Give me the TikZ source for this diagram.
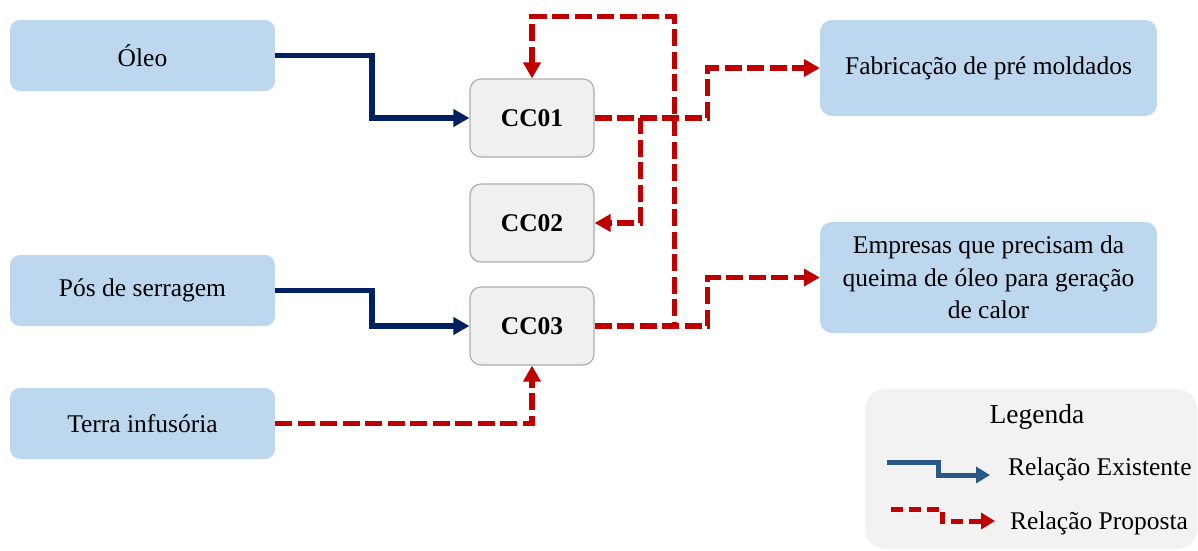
\documentclass[tikz,border=0pt]{standalone}
\usepackage{fontspec}
\setmainfont{Liberation Serif}
\usetikzlibrary{arrows.meta}
\definecolor{boxblue}{HTML}{BDD7EE}
\definecolor{navy}{HTML}{002060}
\definecolor{darkred}{HTML}{C00000}
\definecolor{ccfill}{HTML}{F0F0F0}
\definecolor{ccdraw}{HTML}{ADADAD}
\definecolor{legfill}{HTML}{F2F2F2}
\definecolor{legblue}{HTML}{2A5886}
\tikzset{
  srcbox/.style={fill=boxblue, rounded corners=10pt, minimum width=265pt, minimum height=71pt, inner sep=0pt, font=\fontsize{25.5}{30}\selectfont},
  dstbox/.style={fill=boxblue, rounded corners=12pt, minimum width=337pt, inner sep=0pt, align=center, font=\fontsize{25.5}{32.5}\selectfont},
  ccbox/.style={fill=ccfill, draw=ccdraw, line width=1.2pt, rounded corners=11pt, minimum width=124pt, minimum height=78pt, inner sep=0pt, font=\fontsize{25.5}{30}\selectfont\bfseries},
  exist/.style={draw=navy, line width=5.5pt, -{Triangle[length=16pt,width=17pt]}},
  prop/.style={draw=darkred, line width=5.5pt, dash pattern=on 17pt off 5.5pt, -{Triangle[length=16pt,width=17pt]}},
  legtext/.style={inner sep=0pt, anchor=west, font=\fontsize{25.5}{30}\selectfont},
}
\begin{document}
\begin{tikzpicture}[x=1pt,y=-1pt]
\useasboundingbox (0,0) rectangle (1198,550);
% legend background
\node[fill=legfill, rounded corners=20pt, minimum width=332pt, minimum height=160pt, inner sep=0pt] (legend) at (1031,469) {};
% source boxes
\node[srcbox] (oleo) at (142.5,55.5) {Óleo};
\node[srcbox] (pos) at (142.5,290.5) {Pós de serragem};
\node[srcbox] (terra) at (142.5,423.5) {Terra infusória};
% CC boxes
\node[ccbox] (cc1) at (532,118) {CC01};
\node[ccbox] (cc2) at (532,223) {CC02};
\node[ccbox] (cc3) at (532,326) {CC03};
% destination boxes
\node[dstbox, minimum height=96pt] (fab) at (988.5,68) {Fabricação de pré moldados};
\node[dstbox, minimum height=111pt] (emp) at (988.5,277.5) {Empresas que precisam da\\queima de óleo para geração\\de calor};
% existing relations
\draw[exist] (oleo.east) -- ++(97,0) |- (cc1.west);
\draw[exist] (pos.east) -- ++(97,0) |- (cc3.west);
% proposed relations
\draw[prop] (terra.east) -| (cc3.south);
\draw[prop] (cc1.east) -- ++(113,0) |- (fab.west);
\draw[prop] (cc1.east) -- ++(46,0) |- (cc2.east);
\draw[prop] (cc3.east) -- ++(80,0) |- ([yshift=62pt]cc1.north) -- (cc1.north);
\draw[prop] (cc3.east) -- ++(113,0) |- (emp.west);
% legend content
\node[inner sep=0pt, font=\fontsize{27.5}{32}\selectfont] (legtitle) at (1037,417) {Legenda};
\node[legtext] (lt1) at (1008,469) {Relação Existente};
\node[legtext] (lt2) at (1010,523) {Relação Proposta};
\coordinate (le1) at (887,462);
\coordinate (le2) at (990,475);
\coordinate (lp1) at (891,509);
\coordinate (lp2) at (995,521);
\draw[draw=legblue, line width=5pt, -{Triangle[length=14pt,width=16pt]}] (le1) -- (938,462) -- (938,475) -- (le2);
\draw[draw=darkred, line width=5pt, dash pattern=on 12pt off 6pt, -{Triangle[length=14pt,width=16pt]}] (lp1) -- (942,509) -- (942,521) -- (lp2);
\end{tikzpicture}
\end{document}
